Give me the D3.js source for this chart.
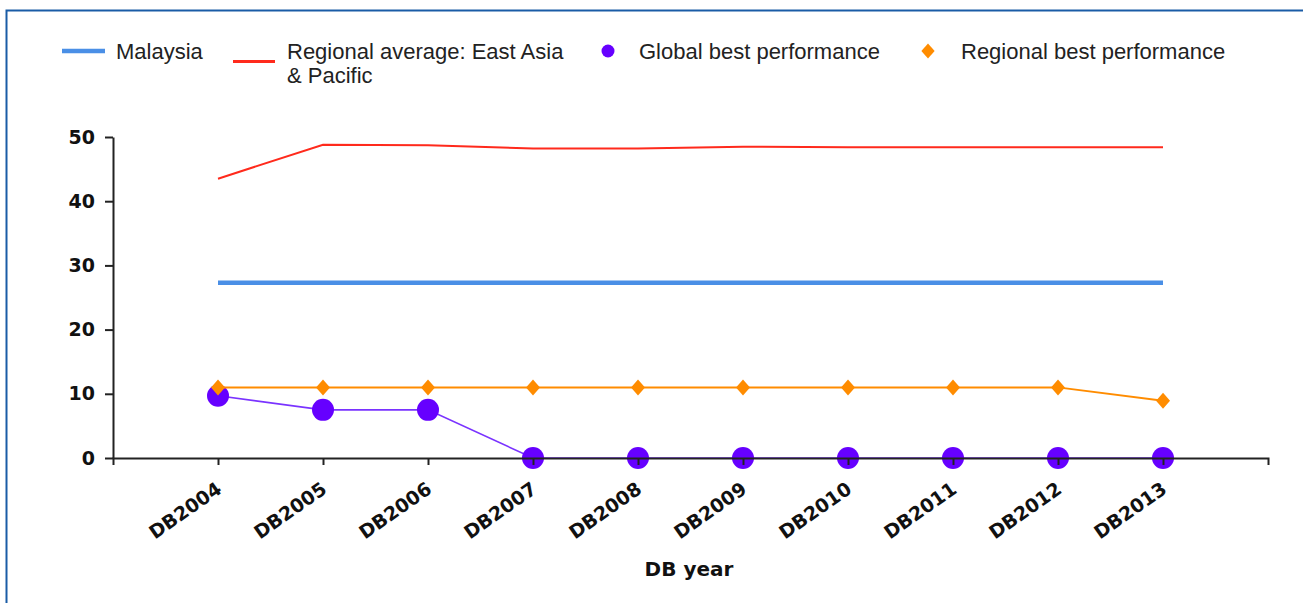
<!DOCTYPE html>
<html lang="en">
<head>
  <meta charset="UTF-8">
  <title>DB year chart</title>
  <style>
    body { margin: 0; background: #fff; }
    svg { display: block; }
  </style>
</head>
<body>

  <svg id="svg" width="1303" height="603"></svg>

  <script src="https://cdn.jsdelivr.net/npm/d3@7"></script>
  <script>
    // data
    const years = ['DB2004', 'DB2005', 'DB2006', 'DB2007', 'DB2008', 'DB2009', 'DB2010', 'DB2011', 'DB2012', 'DB2013'];
    const malaysia = [27.3, 27.3, 27.3, 27.3, 27.3, 27.3, 27.3, 27.3, 27.3, 27.3];
    const regionalAvg = [43.5, 48.8, 48.7, 48.2, 48.2, 48.5, 48.4, 48.4, 48.4, 48.4];
    const globalBest = [9.7, 7.5, 7.5, 0, 0, 0, 0, 0, 0, 0];
    const regionalBest = [11, 11, 11, 11, 11, 11, 11, 11, 11, 8.9];
    const yTicks = [0, 10, 20, 30, 40, 50];

    const svg = d3.select('#svg');

    // frame
    svg.append('path')
      .attr('d', 'M6.5,603V10.5H1303')
      .attr('fill', 'none')
      .attr('stroke', '#1a5ca6')
      .attr('stroke-width', 2);

    const x = d3.scalePoint()
      .domain(years)
      .range([113, 1268])
      .padding(1);

    const y = d3.scaleLinear()
      .domain([0, 50])
      .range([458, 137]);

    const line = d3.line()
      .x((d, i) => x(years[i]))
      .y(d => y(d));

    // Malaysia
    svg.append('path')
      .datum(malaysia)
      .attr('d', line)
      .attr('fill', 'none')
      .attr('stroke', '#4a8fe6')
      .attr('stroke-width', 4.5);

    // Regional average
    svg.append('path')
      .datum(regionalAvg)
      .attr('d', line)
      .attr('fill', 'none')
      .attr('stroke', '#ff2a1c')
      .attr('stroke-width', 2);

    // Global best
    svg.append('path')
      .datum(globalBest)
      .attr('d', line)
      .attr('fill', 'none')
      .attr('stroke', '#7a33ff')
      .attr('stroke-width', 1.6);

    svg.selectAll('circle.gb')
      .data(globalBest)
      .enter()
      .append('circle')
      .attr('class', 'gb')
      .attr('cx', (d, i) => x(years[i]))
      .attr('cy', d => y(d))
      .attr('r', 11)
      .attr('fill', '#6600ff');

    // Regional best
    svg.append('path')
      .datum(regionalBest)
      .attr('d', line)
      .attr('fill', 'none')
      .attr('stroke', '#ff8c00')
      .attr('stroke-width', 2);

    const diamond = 'M0,-8L7,0L0,8L-7,0Z';
    svg.selectAll('path.rb')
      .data(regionalBest)
      .enter()
      .append('path')
      .attr('class', 'rb')
      .attr('d', diamond)
      .attr('transform', (d, i) => `translate(${x(years[i])},${y(d)})`)
      .attr('fill', '#ff8c00');

    // axes
    const yAxis = svg.append('g')
      .attr('transform', 'translate(113,0)')
      .call(d3.axisLeft(y).tickValues(yTicks).tickSize(8).tickSizeOuter(0).tickPadding(10));

    const xAxis = svg.append('g')
      .attr('transform', 'translate(0,458)')
      .call(d3.axisBottom(x).tickSize(7).tickSizeOuter(7).tickFormat(''));

    svg.selectAll('.domain, .tick line')
      .attr('stroke', '#222')
      .attr('stroke-width', 2);

    yAxis.selectAll('text')
      .attr('font-family', 'DejaVu Sans')
      .attr('font-weight', 'bold')
      .attr('font-size', 19)
      .attr('fill', '#111');

    svg.selectAll('text.xl')
      .data(years)
      .enter()
      .append('text')
      .attr('class', 'xl')
      .attr('transform', d => `translate(${x(d) + 5},492) rotate(-35)`)
      .attr('text-anchor', 'end')
      .attr('font-family', 'DejaVu Sans')
      .attr('font-weight', 'bold')
      .attr('font-size', 19)
      .attr('fill', '#111')
      .text(d => d);

    svg.append('text')
      .attr('x', 689)
      .attr('y', 576)
      .attr('text-anchor', 'middle')
      .attr('font-family', 'DejaVu Sans')
      .attr('font-weight', 'bold')
      .attr('font-size', 20)
      .attr('fill', '#111')
      .text('DB year');

    // legend
    const legend = svg.append('g')
      .attr('font-family', 'Liberation Sans, Arial, sans-serif')
      .attr('font-size', 22)
      .attr('fill', '#222');

    legend.append('line')
      .attr('x1', 62).attr('x2', 105).attr('y1', 51).attr('y2', 51)
      .attr('stroke', '#4a8fe6').attr('stroke-width', 4.5);
    legend.append('text').attr('x', 116).attr('y', 59).text('Malaysia');

    legend.append('line')
      .attr('x1', 233).attr('x2', 275).attr('y1', 61.5).attr('y2', 61.5)
      .attr('stroke', '#ff2a1c').attr('stroke-width', 3);
    legend.append('text').attr('x', 287).attr('y', 59).text('Regional average: East Asia');
    legend.append('text').attr('x', 287).attr('y', 83).text('& Pacific');

    legend.append('circle')
      .attr('cx', 608).attr('cy', 51).attr('r', 6.5)
      .attr('fill', '#6600ff');
    legend.append('text').attr('x', 639).attr('y', 59).text('Global best performance');

    legend.append('path')
      .attr('d', diamond)
      .attr('transform', 'translate(928,51) scale(0.95)')
      .attr('fill', '#ff8c00');
    legend.append('text').attr('x', 961).attr('y', 59).text('Regional best performance');
  </script>
</body>
</html>
